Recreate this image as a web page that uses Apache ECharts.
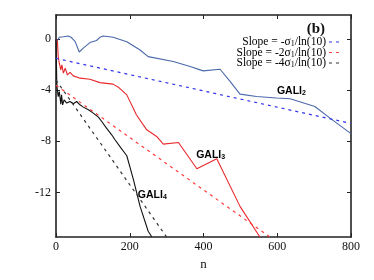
<!DOCTYPE html>
<html><head><meta charset="utf-8">
<script src="https://cdn.jsdelivr.net/npm/echarts@6/dist/echarts.min.js"></script>
<style>html,body{margin:0;padding:0;background:#fff}#c{width:374px;height:280px}</style>
</head><body><div id="c"></div>
<script>
// ---- data ----
const xTicks = [0, 200, 400, 600, 800];
const yTicks = [0, -4, -8, -12];
const gali2 = [[0,0],[2,-0.19],[9,0.15],[20,0.2],[33,0.26],[42,0.13],[52,-0.19],[63,-1.0],[74,-0.7],[92,-0.26],[110,-0.1],[119,0.15],[128,0.26],[155,0.15],[192,-0.19],[228,-0.84],[250,-1.36],[318,-1.75],[364,-2.14],[399,-2.48],[445,-2.35],[472,-3.3],[499,-4.3],[544,-4.49],[598,-4.6],[635,-4.67],[702,-5.27],[743,-6.18],[800,-7.4]];
const gali3 = [[0,0],[4,-0.19],[6,-1.36],[9,-1.88],[13,-2.4],[16,-2.0],[20,-2.66],[25,-2.27],[31,-2.8],[38,-2.6],[47,-2.87],[65,-3.05],[92,-3.13],[119,-3.4],[155,-3.52],[169,-3.76],[192,-4.36],[218,-5.92],[246,-7.1],[273,-7.62],[291,-8.22],[332,-8.09],[382,-10.15],[436,-9.37],[499,-13.1],[553,-15.5]];
const gali4 = [[0,0],[2,-3.2],[3,-3.8],[6,-4.5],[9,-4.1],[13,-5.1],[15,-4.36],[18,-5.14],[22,-4.75],[29,-5.0],[38,-4.88],[47,-5.06],[56,-4.88],[65,-5.14],[74,-5.32],[88,-5.53],[101,-5.79],[115,-6.1],[124,-6.45],[137,-6.97],[151,-7.49],[160,-7.88],[173,-8.4],[192,-9.13],[210,-11.0],[228,-13.1],[250,-15.05],[260,-15.5]];
const slope1 = [[0,-1.5],[800,-6.6]];
const slope2 = [[0,-3.6],[580,-15.5]];
const slope4 = [[0,-3.2],[300,-15.5]];
const legendLabels = ['{a|Slope = -σ}{s|1}{a|/ln(10)}', '{a|Slope = -2σ}{s|1}{a|/ln(10)}', '{a|Slope = -4σ}{s|1}{a|/ln(10)}'];
const legendColors = ['#3333ee','#ff3b3b','#333'];
const labels = [{n:599,v:-4.05,t:'GALI',s:'2'},{n:380,v:-9.05,t:'GALI',s:'3'},{n:222,v:-12.2,t:'GALI',s:'4'}];

const serif = '"Liberation Serif","DejaVu Serif",serif';
const sans = '"Liberation Sans",Arial,sans-serif';
const chart = echarts.init(document.getElementById('c'));
const axisLine = {show:true,onZero:false,lineStyle:{color:'#222',width:1.6}};
const tick = {inside:true,length:4,lineStyle:{color:'#222'}};
function line(name, data, color, dashed){
  return {name, type:'line', data, showSymbol:false, symbol:'none', clip:true, animation:false,
    lineStyle:{color, width: dashed?1.2:1.1, type: dashed?[3,4]:'solid'}, itemStyle:{color}};
}
chart.setOption({
  animation:false,
  grid:{left:56,right:23,top:15,bottom:43},
  title:{text:'(b)', right:44, top:17, textStyle:{fontFamily:serif,fontWeight:'bold',fontSize:15,color:'#111'}},
  xAxis:[
    {type:'value',min:0,max:800,interval:200,name:'n',nameLocation:'middle',nameGap:16,nameTextStyle:{fontFamily:serif,fontSize:13,color:'#111'},
     axisLine,axisTick:tick,axisLabel:{fontFamily:serif,fontSize:12,color:'#111',margin:4},splitLine:{show:false}},
    {type:'value',min:0,max:800,interval:200,position:'top',axisLine,axisTick:tick,axisLabel:{show:false},splitLine:{show:false}}
  ],
  yAxis:[
    {type:'value',min:-15.5,max:1.9,axisLine,axisTick:{...tick,customValues:yTicks},
     axisLabel:{customValues:yTicks,fontFamily:serif,fontSize:12,color:'#111',margin:5},splitLine:{show:false}},
    {type:'value',min:-15.5,max:1.9,position:'right',axisLine,axisTick:{...tick,customValues:yTicks},
     axisLabel:{show:false},splitLine:{show:false}}
  ],
  series:[
    line('gali2',gali2,'#4a68aa',false),
    line('gali3',gali3,'#e8282c',false),
    line('gali4',gali4,'#111',false),
    line('s1',slope1,legendColors[0],true),
    line('s2',slope2,legendColors[1],true),
    line('s4',slope4,legendColors[2],true)
  ]
});
const g = labels.map(l=>{
  const p = chart.convertToPixel({xAxisIndex:0,yAxisIndex:0},[l.n,l.v]);
  return {type:'text', x:p[0], y:p[1], style:{text:'{a|'+l.t+'}{s|'+l.s+'}', verticalAlign:'middle',
    rich:{a:{fontFamily:sans,fontWeight:'bold',fontSize:10.5,color:'#111',lineHeight:12},
          s:{fontFamily:sans,fontWeight:'bold',fontSize:7,color:'#111',lineHeight:12,verticalAlign:'bottom',padding:[6,0,0,0]}}}};
});
legendLabels.forEach((t,i)=>{
  const y = 42 + i*10.5;
  g.push({type:'text', x:326, y, style:{text:t, align:'right', verticalAlign:'middle',
    rich:{a:{fontFamily:serif,fontSize:11.5,color:'#111',lineHeight:12},s:{fontFamily:serif,fontSize:8,color:'#111',lineHeight:12,verticalAlign:'bottom',padding:[5,0,0,0]}}}});
  g.push({type:'line', shape:{x1:329,y1:y,x2:341,y2:y}, style:{stroke:legendColors[i],lineWidth:1.2,lineDash:[3,4]}});
});
chart.setOption({graphic:g});
</script></body></html>
